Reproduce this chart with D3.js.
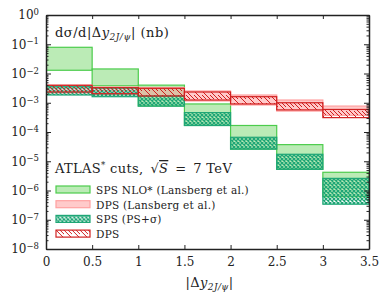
<!DOCTYPE html>
<html>
<head>
<meta charset="utf-8">
<script src="https://cdn.jsdelivr.net/npm/d3@7"></script>
<style>
  body { margin: 0; background: #fff; }
  svg { display: block; font-family: "DejaVu Serif", serif; }
  .axis path, .axis line { stroke: #222; }
  .axis text { fill: #222; font-family: "DejaVu Serif", serif; }
</style>
</head>
<body>
<svg id="chart" width="390" height="293"></svg>
<script>
// bin edges in |Delta y|
let binEdges = [0, 0.5, 1, 1.5, 2, 2.5, 3, 3.5];

// SPS NLO* (Lansberg et al.) band
let nloLow  = [0.0129, 0.0038, 0.00077, 0.000167, 2.6e-5, 5.3e-6, 6.1e-7];
let nloHigh = [0.0787, 0.0143, 0.0040, 0.00091, 0.000167, 3.7e-5, 4.2e-6];

// DPS (Lansberg et al.) band
let dpsLLow  = [0.00215, 0.00191, 0.0017, 0.00115, 0.00084, 0.00052, 0.00037];
let dpsLHigh = [0.00404, 0.00345, 0.00332, 0.00252, 0.00184, 0.00124, 0.00077];

// SPS (PS+sigma) band
let spsLow  = [0.00184, 0.00161, 0.00077, 0.000167, 2.6e-5, 5.3e-6, 3.4e-7];
let spsHigh = [0.00354, 0.00319, 0.0017, 0.00046, 6.6e-5, 1.73e-5, 2.6e-6];

// DPS band
let dpsLow  = [0.00233, 0.00204, 0.0017, 0.00124, 0.00091, 0.00057, 0.00031];
let dpsHigh = [0.00395, 0.00327, 0.00312, 0.00233, 0.00161, 0.0010, 0.00059];

let xTicks = [0, 0.5, 1, 1.5, 2, 2.5, 3, 3.5];
let yExponents = [0, -1, -2, -3, -4, -5, -6, -7, -8];

let legendLabels = ["SPS NLO* (Lansberg et al.)", "DPS (Lansberg et al.)", "SPS (PS+σ)", "DPS"];

let svg = d3.select("#chart");
let margin = {top: 15, right: 21, bottom: 44, left: 46};
let width = 390 - margin.left - margin.right;
let height = 293 - margin.top - margin.bottom;

let x = d3.scaleLinear().domain([0, 3.5]).range([0, width]);
let y = d3.scaleLog().domain([1e-8, 1]).range([height, 0]);

// patterns
let defs = svg.append("defs");
let cross = defs.append("pattern").attr("id", "crossHatch")
    .attr("patternUnits", "userSpaceOnUse").attr("width", 4).attr("height", 4);
cross.append("path").attr("d", "M0,0 L4,4 M4,0 L0,4")
    .attr("stroke", "#1fa676").attr("stroke-width", 1.3);
cross.append("path").attr("d", "M-1,1 L1,-1 M3,5 L5,3 M-1,3 L1,5 M3,-1 L5,1")
    .attr("stroke", "#1fa676").attr("stroke-width", 1.3);

let hatch = defs.append("pattern").attr("id", "diagHatch")
    .attr("patternUnits", "userSpaceOnUse").attr("width", 8).attr("height", 8);
hatch.append("path").attr("d", "M0,0 L8,8 M-4,4 L0,8 M4,-4 L12,4 M4,0 L8,4")
    .attr("stroke", "#d02020").attr("stroke-width", 1);

let g = svg.append("g").attr("transform", "translate(" + margin.left + "," + margin.top + ")");

g.append("clipPath").attr("id", "plotClip")
    .append("rect").attr("width", width).attr("height", height);

let plot = g.append("g").attr("clip-path", "url(#plotClip)");

let series = [
    {low: nloLow, high: nloHigh, fill: "rgba(120,215,110,0.5)", stroke: "#4ccc4c"},
    {low: dpsLLow, high: dpsLHigh, fill: "rgba(255,150,150,0.5)", stroke: "#ffa0a0"},
    {low: spsLow, high: spsHigh, fill: "url(#crossHatch)", stroke: "#1fa676"},
    {low: dpsLow, high: dpsHigh, fill: "url(#diagHatch)", stroke: "#d02020"}
];

series.forEach(function (s) {
    let bins = s.low.map((lo, i) => ({x0: binEdges[i], x1: binEdges[i + 1], lo: lo, hi: s.high[i]}));
    plot.append("g").selectAll("rect").data(bins).enter().append("rect")
        .attr("x", d => x(d.x0))
        .attr("width", d => x(d.x1) - x(d.x0))
        .attr("y", d => y(d.hi))
        .attr("height", d => y(d.lo) - y(d.hi))
        .attr("fill", s.fill)
        .attr("stroke", s.stroke)
        .attr("stroke-width", 1.2);
});

// axes
let majorY = yExponents.map(e => Math.pow(10, e));
let minorY = [];
for (let e = -8; e < 0; e++) {
    for (let m = 2; m <= 9; m++) minorY.push(m * Math.pow(10, e));
}

let yAxis = g.append("g").attr("class", "axis")
    .call(d3.axisLeft(y).tickValues(majorY).tickSizeInner(-5).tickSizeOuter(0).tickPadding(7).tickFormat(""));
yAxis.selectAll(".tick text").each(function (d) {
    let t = d3.select(this);
    t.text("10").attr("font-size", 12);
    t.append("tspan").attr("dy", "-0.5em").attr("font-size", 8.5)
        .text((d < 1 ? "\u2212" : "") + Math.abs(Math.round(Math.log10(d))));
});
g.append("g").attr("class", "axis")
    .call(d3.axisLeft(y).tickValues(minorY).tickSizeInner(-2.5).tickSizeOuter(0).tickFormat(""))
    .select(".domain").remove();

g.append("g").attr("class", "axis").attr("transform", "translate(" + width + ",0)")
    .call(d3.axisRight(y).tickValues(majorY).tickSizeInner(-5).tickSizeOuter(0).tickFormat(""));
g.append("g").attr("class", "axis").attr("transform", "translate(" + width + ",0)")
    .call(d3.axisRight(y).tickValues(minorY).tickSizeInner(-2.5).tickSizeOuter(0).tickFormat(""))
    .select(".domain").remove();

let xAxis = g.append("g").attr("class", "axis").attr("transform", "translate(0," + height + ")")
    .call(d3.axisBottom(x).tickValues(xTicks).tickSizeInner(-4).tickSizeOuter(0).tickPadding(8)
        .tickFormat(d => d));
xAxis.selectAll(".tick text").attr("font-size", 12);
g.append("g").attr("class", "axis")
    .call(d3.axisTop(x).tickValues(xTicks).tickSizeInner(-4).tickSizeOuter(0).tickFormat(""));

g.selectAll(".axis .domain").attr("stroke-width", 1.5);

// x axis title
let xt = g.append("text").attr("x", width / 2 + 2).attr("y", height + 38)
    .attr("text-anchor", "middle").attr("font-size", 13).attr("fill", "#222")
    .attr("letter-spacing", 0.4);
xt.append("tspan").text("|Δ");
xt.append("tspan").attr("font-style", "italic").text("y");
xt.append("tspan").attr("font-size", 9).attr("dy", 3).attr("font-style", "italic").text("2J/ψ");
xt.append("tspan").attr("dy", -3).text("|");

// y title inside plot
let yt = g.append("text").attr("x", 9).attr("y", 22).attr("font-size", 13).attr("fill", "#222")
    .attr("letter-spacing", 0.5);
yt.append("tspan").text("dσ/d|Δ");
yt.append("tspan").attr("font-style", "italic").text("y");
yt.append("tspan").attr("font-size", 9).attr("dy", 3).attr("font-style", "italic").text("2J/ψ");
yt.append("tspan").attr("dy", -3).text("| (nb)");

// cuts label
let ct = g.append("text").attr("x", 9).attr("y", 158).attr("font-size", 13).attr("fill", "#222")
    .attr("letter-spacing", 0.35);
ct.append("tspan").text("ATLAS");
ct.append("tspan").attr("font-size", 8.5).attr("dy", -5).text("*");
ct.append("tspan").attr("dy", 5).text(" cuts,\u2002√");
ct.append("tspan").attr("font-style", "italic").attr("text-decoration", "overline").text("S");
ct.append("tspan").text("\u2002=\u20027 TeV");

// legend
let legend = g.append("g").attr("transform", "translate(10,171)");
let items = legend.selectAll("g.item").data(legendLabels).enter().append("g")
    .attr("class", "item")
    .attr("transform", (d, i) => "translate(0," + (i * 14.7) + ")");
items.append("rect").attr("width", 34).attr("height", 7)
    .attr("fill", (d, i) => series[i].fill)
    .attr("stroke", (d, i) => series[i].stroke)
    .attr("stroke-width", 1.2);
items.append("text").attr("x", 40).attr("y", 7.8).attr("font-size", 10.5).attr("fill", "#222")
    .attr("letter-spacing", 0.25)
    .text(d => d);
</script>
</body>
</html>
